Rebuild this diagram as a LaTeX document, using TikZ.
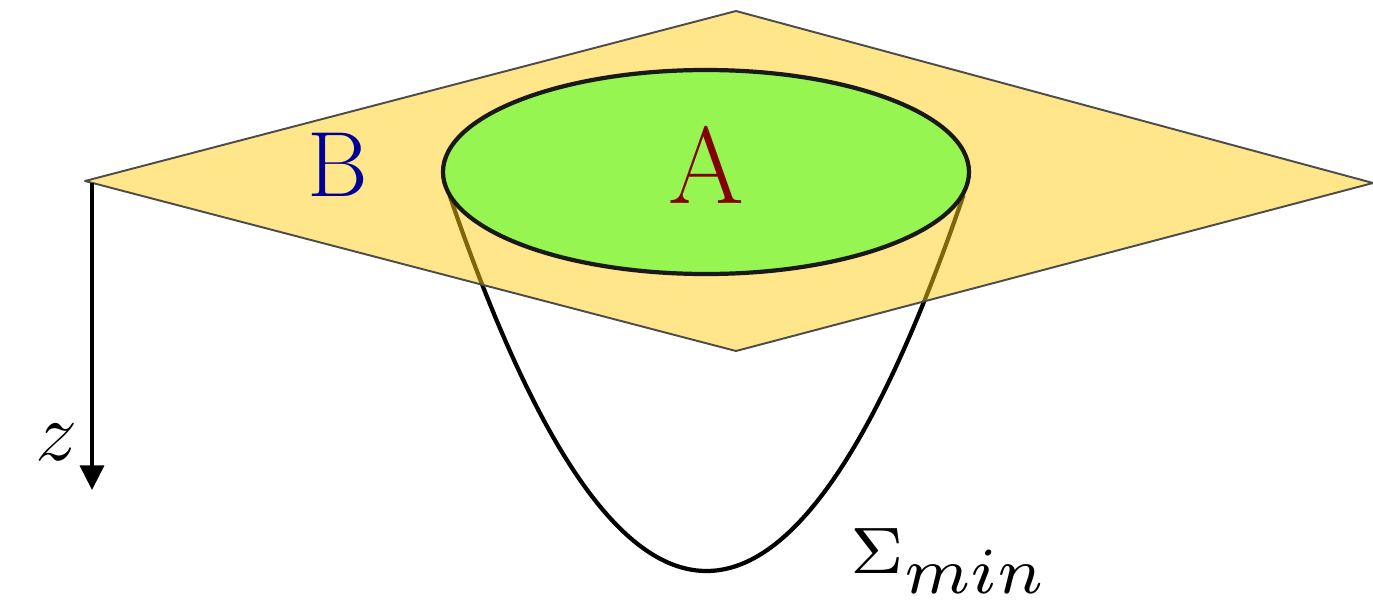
\documentclass[tikz,border=0pt]{standalone}
\usetikzlibrary{arrows.meta}
\definecolor{planecol}{RGB}{255,205,21}
\definecolor{diskcol}{RGB}{150,245,80}
\definecolor{bcol}{RGB}{0,0,150}
\definecolor{acol}{RGB}{130,0,0}
\tikzset{
  lbl/.style={inner sep=0pt,font=\Huge},
  curve/.style={line width=2.4pt,black},
}
\begin{document}
\begin{tikzpicture}[x=0.02cm,y=-0.02cm]
\useasboundingbox (0,0) rectangle (1373,609);
% minimal surface
\draw[curve,domain=449.5:963.5,samples=120,smooth] plot (\x,{571-0.005685*(\x-706.5)*(\x-706.5)});
% plane
\coordinate (pl) at (85,181);
\coordinate (pt) at (736,11);
\coordinate (pr) at (1373,183);
\coordinate (pb) at (736,351);
\fill[planecol,opacity=0.5] (pl) -- (pt) -- (pr) -- (pb) -- cycle;
\draw[gray!60!black,line width=1.1pt,line join=round] (pl) -- (pt) -- (pr) -- (pb) -- cycle;
% disk A
\draw[fill=diskcol,draw=black!90,line width=2.4pt] (706,172) ellipse [x radius=263,y radius=102];
% axis
\coordinate (z0) at (92,183);
\coordinate (z1) at (92,490);
\draw[line width=2.2pt,-{Triangle[width=13.6pt,length=14pt]}] (z0) -- (z1);
\node[lbl,anchor=base,scale=1.93] (z) at (57,460) {$z$};
\node[lbl,anchor=base,scale=2.12,text=bcol] (B) at (338,196) {B};
\node[lbl,anchor=base,scale=2.5,text=acol] (A) at (706,203) {A};
\node[inner sep=0pt,font=\scriptsize,anchor=base west,scale=5.34] (S) at (849,573) {$\Sigma_{\textstyle min}$};
\end{tikzpicture}
\end{document}
